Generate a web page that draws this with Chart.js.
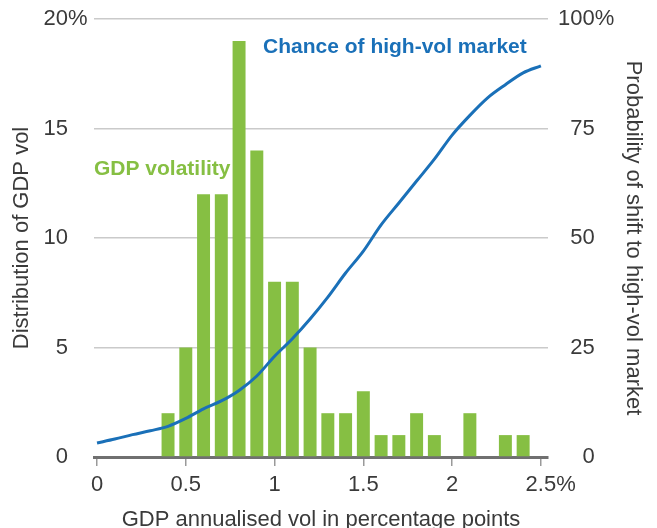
<!DOCTYPE html>
<html>
<head>
<meta charset="utf-8">
<script src="https://cdn.jsdelivr.net/npm/chart.js@4.4.1/dist/chart.umd.min.js"></script>
<style>
    html, body { margin: 0; padding: 0; background: #fff; }
    #wrap { width: 657px; height: 528px; position: relative; }
</style>
</head>
<body>
<div id="wrap"><canvas id="volChart"></canvas></div>
<script>
// histogram of GDP annualised vol (share of observations, %)
const volBins = [0.4, 0.5, 0.6, 0.7, 0.8, 0.9, 1.0, 1.1, 1.2, 1.3, 1.4, 1.5, 1.6, 1.7, 1.8, 1.9, 2.0, 2.1, 2.2, 2.3, 2.4];
const volShare = [2, 5, 12, 12, 19, 14, 8, 8, 5, 2, 2, 3, 1, 1, 2, 1, 0, 2, 0, 1, 1];

// probability of a shift to the high-vol market (%)
const probX = [0, 0.1, 0.2, 0.3, 0.4, 0.5, 0.6, 0.7, 0.8, 0.9, 1.0, 1.1, 1.2, 1.3, 1.4, 1.5, 1.6, 1.7, 1.8, 1.9, 2.0, 2.1, 2.2, 2.3, 2.4, 2.5];
const probShift = [3.2, 4.1, 5.1, 6.0, 7.0, 8.8, 11, 12.8, 15.2, 18.5, 23, 27, 31.5, 36.5, 42, 47, 53, 58, 63, 68, 73.5, 78, 82, 85, 87.7, 89.3];

const xTickValues = [0, 0.5, 1, 1.5, 2, 2.5];

(() => {
    const textColor = "#3a3a3a";
    const fontFamily = "'Liberation Sans', Arial, sans-serif";
    const green = "#86bf43";
    const blue = "#1a70b8";

    // "%" hangs after the top/last numbers, like the original
    const percentSigns = {
        id: "percentSigns",
        afterDraw(chart) {
            const { ctx } = chart;
            const y = chart.scales.y;
            const x = chart.scales.x;
            ctx.save();
            ctx.font = `22px ${fontFamily}`;
            ctx.fillStyle = textColor;
            ctx.textBaseline = "middle";
            ctx.textAlign = "left";
            ctx.fillText("%", y.right - y.options.ticks.padding, y.getPixelForValue(y.max));
            const last = xTickValues[xTickValues.length - 1];
            const w = ctx.measureText(String(last)).width;
            ctx.fillText("%", x.getPixelForValue(last) + w / 2, x.top + 9 + 6 + 13.2);
            ctx.restore();
        }
    };

    const seriesLabels = {
        id: "seriesLabels",
        afterDatasetsDraw(chart) {
            const { ctx } = chart;
            const x = chart.scales.x;
            const y = chart.scales.y;
            ctx.save();
            ctx.font = `bold 21px ${fontFamily}`;
            ctx.textBaseline = "middle";
            ctx.textAlign = "left";
            ctx.fillStyle = blue;
            ctx.fillText("Chance of high-vol market", x.getPixelForValue(0.935), y.getPixelForValue(18.7));
            ctx.fillStyle = green;
            ctx.fillText("GDP volatility", x.getPixelForValue(-0.017), y.getPixelForValue(13.15));
            ctx.restore();
        }
    };

    // fixed axis boxes so the plot area sits where the original has it
    const fixVertical = (width) => (axis) => {
        axis.width = width;
        axis.paddingTop = 0;
        axis.paddingBottom = 0;
    };

    const canvas = document.getElementById("volChart");
    new Chart(canvas, {
        type: "bar",
        data: {
            datasets: [
                {
                    type: "line",
                    label: "Chance of high-vol market",
                    data: probX.map((v, i) => ({ x: v, y: probShift[i] })),
                    yAxisID: "y2",
                    borderColor: blue,
                    borderWidth: 3,
                    pointRadius: 0,
                    cubicInterpolationMode: "monotone",
                    fill: false,
                    order: 0
                },
                {
                    label: "GDP volatility",
                    data: volBins.map((v, i) => ({ x: v, y: volShare[i] })),
                    yAxisID: "y",
                    backgroundColor: green,
                    borderWidth: 0,
                    barPercentage: 0.73,
                    categoryPercentage: 1,
                    order: 1
                }
            ]
        },
        options: {
            responsive: true,
            maintainAspectRatio: false,
            animation: false,
            layout: { padding: { top: 19, left: 0, right: 0, bottom: 0 } },
            plugins: {
                legend: { display: false },
                tooltip: { enabled: false }
            },
            scales: {
                x: {
                    type: "linear",
                    min: -0.017,
                    max: 2.54,
                    offset: false,
                    afterBuildTicks: (axis) => {
                        axis.ticks = xTickValues.map((v) => ({ value: v }));
                    },
                    afterFit: (axis) => { axis.height = 71; },
                    grid: {
                        offset: false,
                        drawOnChartArea: false,
                        drawTicks: true,
                        tickLength: 9,
                        color: "#9a9a9a",
                        lineWidth: 1.5
                    },
                    border: { color: "#707070", width: 3 },
                    ticks: {
                        padding: 6,
                        color: textColor,
                        font: { family: fontFamily, size: 22, lineHeight: 1.2 },
                        maxRotation: 0,
                        callback: (v) => String(v)
                    },
                    title: {
                        display: true,
                        text: "GDP annualised vol in percentage points",
                        color: textColor,
                        font: { family: fontFamily, size: 22, lineHeight: 0.82 },
                        padding: { top: 0, bottom: -1 }
                    }
                },
                y: {
                    position: "left",
                    min: 0,
                    max: 20,
                    afterFit: fixVertical(94),
                    grid: {
                        color: "#cacaca",
                        lineWidth: 1.5,
                        drawTicks: false
                    },
                    border: { display: false },
                    ticks: {
                        stepSize: 5,
                        padding: 26,
                        color: textColor,
                        font: { family: fontFamily, size: 22 },
                        callback: (v) => String(v)
                    },
                    title: {
                        display: true,
                        text: "Distribution of GDP vol",
                        color: textColor,
                        font: { family: fontFamily, size: 22, lineHeight: 1 },
                        padding: { top: 11, bottom: 0 }
                    }
                },
                y2: {
                    position: "right",
                    min: 0,
                    max: 100,
                    afterFit: fixVertical(109),
                    grid: { display: false, drawTicks: false },
                    border: { display: false },
                    ticks: {
                        stepSize: 25,
                        padding: 10,
                        color: textColor,
                        font: { family: fontFamily, size: 22 },
                        callback: (v) => (v === 100 ? "100%" : "\u2007".repeat(3 - String(v).length) + v)
                    },
                    title: {
                        display: true,
                        text: "Probability of shift to high-vol market",
                        color: textColor,
                        font: { family: fontFamily, size: 22, lineHeight: 1 },
                        padding: { top: 13, bottom: 0 }
                    }
                }
            }
        },
        plugins: [percentSigns, seriesLabels]
    });
})();
</script>
</body>
</html>
